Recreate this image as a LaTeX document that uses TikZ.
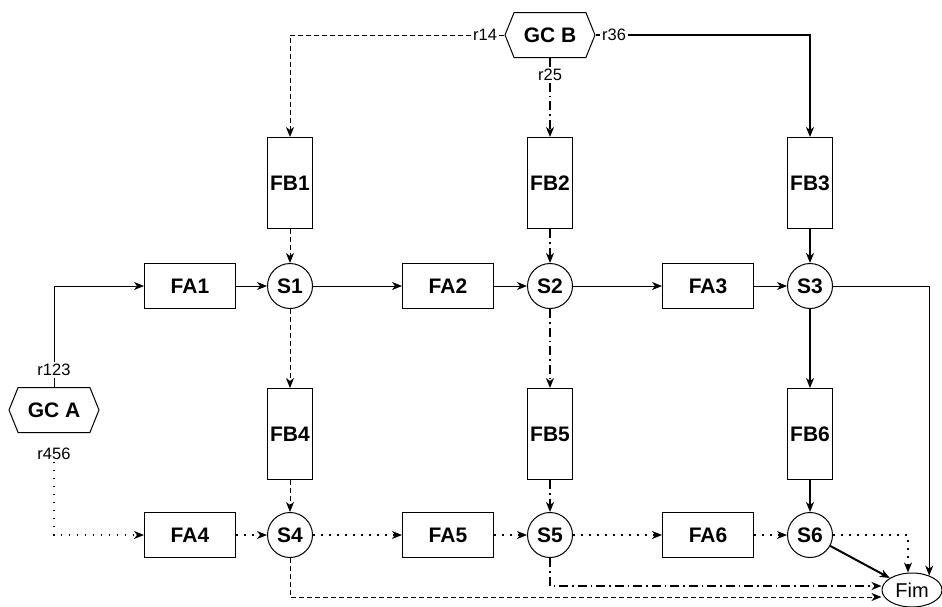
\documentclass[tikz,border=0pt]{standalone}
\usepackage{fontspec}
\setmainfont{Liberation Sans}
\usetikzlibrary{arrows.meta,shapes.symbols,shapes.geometric}
\begin{document}
\begin{tikzpicture}[x=1pt,y=-1pt,
 box/.style={draw, line width=1pt, inner sep=0pt, font=\fontsize{21}{25}\selectfont\bfseries},
 fa/.style={box, minimum width=91pt, minimum height=45pt},
 fb/.style={box, minimum width=45pt, minimum height=91pt},
 sum/.style={box, circle, minimum size=45pt},
 gc/.style={box, shape=signal, signal to=east and west, signal pointer angle=136, minimum width=90pt, minimum height=45pt},
 lbl/.style={inner sep=1.5pt, font=\fontsize{16.5}{19}\selectfont},
 tip/.style={-{Stealth[length=10pt,width=8pt,inset=3pt]}},
 pa/.style={tip, line width=1pt},
 pd/.style={tip, line width=1.5pt, dash pattern=on 1.5pt off 6.5pt},
 pk/.style={tip, line width=1pt, dash pattern=on 5pt off 3pt},
 pdd/.style={tip, line width=1.5pt, dash pattern=on 9pt off 4pt on 1.5pt off 4pt},
 pt/.style={tip, line width=2pt},
]
\useasboundingbox (0,0) rectangle (942,606);
% controllers and labels
\node[gc] (gcb) at (550,35) {GC B};
\node[gc] (gca) at (54,410) {GC A};
\node[lbl] (r14) at (485,35) {r14};
\node[lbl] (r36) at (614,35) {r36};
\node[lbl] (r25) at (550,75) {r25};
\node[lbl] (r123) at (54,370) {r123};
\node[lbl] (r456) at (54,454) {r456};
% FB boxes
\node[fb] (fb1) at (290,183) {FB1};
\node[fb] (fb2) at (550,183) {FB2};
\node[fb] (fb3) at (810,183) {FB3};
\node[fb] (fb4) at (290,434) {FB4};
\node[fb] (fb5) at (550,434) {FB5};
\node[fb] (fb6) at (810,434) {FB6};
% FA boxes
\node[fa] (fa1) at (190,286) {FA1};
\node[fa] (fa2) at (448,286) {FA2};
\node[fa] (fa3) at (708,286) {FA3};
\node[fa] (fa4) at (190,535) {FA4};
\node[fa] (fa5) at (448,535) {FA5};
\node[fa] (fa6) at (708,535) {FA6};
% S circles
\node[sum] (s1) at (290,286) {S1};
\node[sum] (s2) at (550,286) {S2};
\node[sum] (s3) at (810,286) {S3};
\node[sum] (s4) at (290,535) {S4};
\node[sum] (s5) at (550,535) {S5};
\node[sum] (s6) at (810,535) {S6};
% end
\node[draw, line width=1pt, ellipse, minimum width=60pt, minimum height=34pt, inner sep=0pt, font=\fontsize{20}{24}\selectfont] (fim) at (912,590) {Fim};
% r123 solid
\draw[pa,-] (gca.north) -- (r123.south);
\draw[pa] (r123.north) |- (fa1.west);
\draw[pa] (fa1) -- (s1);
\draw[pa] (s1) -- (fa2);
\draw[pa] (fa2) -- (s2);
\draw[pa] (s2) -- (fa3);
\draw[pa] (fa3) -- (s3);
\draw[pa] (s3.east) -| (fim.40);
% r456 dotted
\draw[pd] (r456.south) |- (fa4.west);
\draw[pd] (fa4) -- (s4);
\draw[pd] (s4) -- (fa5);
\draw[pd] (fa5) -- (s5);
\draw[pd] (s5) -- (fa6);
\draw[pd] (fa6) -- (s6);
\draw[pd] (s6.east) -| ([xshift=-4pt]fim.north);
% r14 dashed
\draw[pk,-] (gcb.west) -- (r14.east);
\draw[pk] (r14.west) -| (fb1.north);
\draw[pk] (fb1) -- (s1);
\draw[pk] (s1) -- (fb4);
\draw[pk] (fb4) -- (s4);
\draw[pk] (s4.south) |- ([yshift=-7pt]fim.west);
% r25 dash-dot
\draw[pdd,-] (gcb.south) -- (r25.north);
\draw[pdd] (r25.south) -- (fb2.north);
\draw[pdd] (fb2) -- (s2);
\draw[pdd] (s2) -- (fb5);
\draw[pdd] (fb5) -- (s5);
\draw[pdd, line width=2pt] (s5.south) |- ([yshift=4pt]fim.west);
% r36 thick
\draw[pt,-] (gcb.east) -- (r36.west);
\draw[pt] (r36.east) -| (fb3.north);
\draw[pt] (fb3) -- (s3);
\draw[pt] (s3) -- (fb6);
\draw[pt] (fb6) -- (s6);
\draw[pt] (s6) -- (fim);
\end{tikzpicture}
\end{document}
